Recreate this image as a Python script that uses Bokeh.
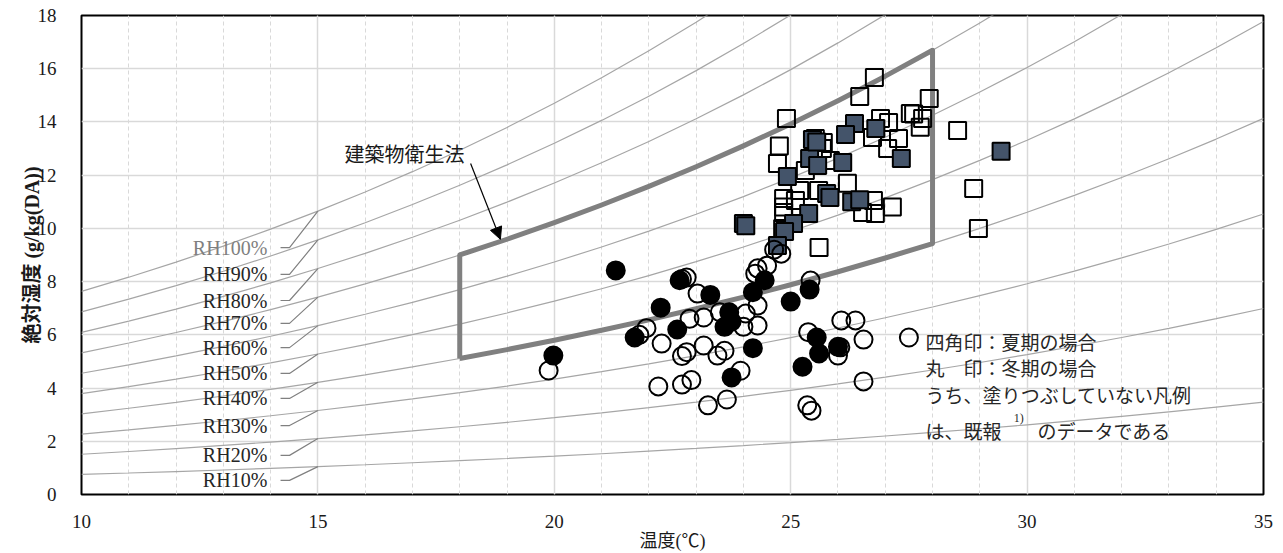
from bokeh.plotting import figure
from bokeh.models import Range1d, SingleIntervalTicker, Arrow, NormalHead
from bokeh.core.properties import value
from bokeh.embed import file_html
from bokeh.resources import INLINE

# ---------------- data ----------------
# saturation vapour pressure (kPa) at integer temperatures (degC)
temps = list(range(10, 36))
p_sat = [1.2282, 1.3130, 1.4028, 1.4981, 1.5990, 1.7058, 1.8188, 1.9384,
         2.0647, 2.1983, 2.3393, 2.4882, 2.6453, 2.8111, 2.9858, 3.1699,
         3.3639, 3.5681, 3.7831, 4.0092, 4.2470, 4.4969, 4.7596, 5.0354,
         5.3251, 5.6290]
P_ATM = 101.325
rh_levels = [10, 20, 30, 40, 50, 60, 70, 80, 90, 100]
rh_labels = ["RH10%", "RH20%", "RH30%", "RH40%", "RH50%",
             "RH60%", "RH70%", "RH80%", "RH90%", "RH100%"]
rh_label_y = [0.53, 1.47, 2.59, 3.61, 4.55, 5.52, 6.43, 7.29, 8.27, 9.28]

# regulation zone (建築物衛生法): 18-28 degC, RH 40-70 %
zone_t = [18, 28]
zone_rh = [40, 70]

# summer, previous report (open squares)
open_sq_t = [26.77, 26.46, 24.91, 27.93, 26.90, 27.07, 27.53, 27.79, 27.74, 24.76,
             25.52, 25.69, 25.67, 26.73, 27.28, 27.05, 24.72, 25.31, 25.84, 26.20,
             25.59, 25.19, 24.85, 24.85, 24.85, 26.75, 27.15, 26.79, 26.52, 25.60,
             24.83, 28.53, 28.87, 28.97, 27.60, 25.10]
open_sq_h = [15.67, 14.96, 14.13, 14.88, 14.13, 13.98, 14.32, 14.13, 13.80, 13.10,
             13.38, 13.23, 13.00, 13.42, 13.38, 13.00, 12.44, 12.18, 12.55, 11.70,
             11.42, 11.42, 11.12, 10.80, 10.60, 11.05, 10.80, 10.56, 10.60, 9.28,
             10.00, 13.68, 11.50, 10.00, 14.30, 11.05]
# summer, this study (filled squares)
fill_sq_t = [25.46, 26.35, 26.16, 26.80, 25.40, 25.57, 26.10, 24.93, 27.34, 25.76,
             25.83, 26.29, 26.46, 25.38, 25.06, 24.87, 24.72, 24.00, 29.45, 24.05, 25.55]
fill_sq_h = [13.34, 13.94, 13.53, 13.75, 12.63, 12.36, 12.48, 11.95, 12.63, 11.31,
             11.16, 11.00, 11.08, 10.56, 10.18, 9.88, 9.36, 10.18, 12.90, 10.10, 13.25]
# winter, previous report (open circles)
open_c_t = [19.88, 21.80, 21.95, 22.27, 22.20, 22.70, 22.90, 22.70, 22.80, 22.80,
            22.70, 22.86, 23.16, 23.03, 23.16, 23.45, 23.60, 23.25, 23.65, 23.94,
            23.50, 24.05, 24.00, 24.30, 24.30, 24.30, 24.25, 24.50, 24.80, 24.65,
            25.42, 25.37, 26.07, 26.37, 26.54, 26.05, 26.00, 27.50, 26.54, 25.35, 25.44]
open_c_h = [4.66, 6.00, 6.25, 5.67, 4.06, 4.13, 4.30, 5.20, 5.35, 8.15,
            8.10, 6.60, 6.65, 7.55, 5.60, 5.22, 5.40, 3.35, 3.57, 4.65,
            6.85, 6.80, 6.30, 6.35, 7.10, 8.50, 8.30, 8.60, 9.05, 9.20,
            8.04, 6.10, 6.54, 6.54, 5.82, 5.53, 5.22, 5.90, 4.25, 3.35, 3.15]
# winter, this study (filled circles)
fill_c_t = [19.98, 21.30, 21.70, 22.25, 22.60, 22.65, 23.30, 23.60, 23.70, 23.75,
            23.75, 24.20, 24.20, 24.45, 25.00, 25.40, 25.55, 25.60, 26.00, 25.25]
fill_c_h = [5.22, 8.42, 5.90, 7.02, 6.20, 8.05, 7.50, 6.30, 6.85, 6.50,
            4.40, 7.60, 5.50, 8.05, 7.25, 7.70, 5.90, 5.30, 5.55, 4.80]

# annotation texts / positions
x_title = "温度(℃)"
y_title = "絶対湿度 (g/kg(DA))"
zone_label = "建築物衛生法"
zone_label_pos = [16.83, 12.81]
arrow_pos = [18.23, 12.44, 18.86, 9.59]
note_lines = ["四角印：夏期の場合", "丸　印：冬期の場合", "うち、塗りつぶしていない凡例"]
note_x = 27.85
note_y = [5.74, 4.76, 3.74]
note_last = ["は、既報", "1)", "のデータである"]
note_last_x = [27.85, 29.72, 30.22]
note_last_y = [2.39, 2.88, 2.39]

SERIF = "Liberation Serif, Noto Sans CJK JP"
GOTHIC = "Noto Sans CJK JP, Noto Sans"


def hum_ratio(rh, ps):
    pw = rh / 100.0 * ps
    return 622.0 * pw / (P_ATM - pw)


# ---------------- figure ----------------
p = figure(width=1283, height=553, output_backend="svg", toolbar_location=None,
           x_range=Range1d(10, 35), y_range=Range1d(0, 18),
           min_border_left=81, min_border_right=20, min_border_top=15,
           min_border_bottom=59)
p.background_fill_color = "white"
p.border_fill_color = "white"
p.outline_line_color = "black"
p.outline_line_width = 2

p.xaxis.ticker = SingleIntervalTicker(interval=5, num_minor_ticks=5)
p.yaxis.ticker = SingleIntervalTicker(interval=2, num_minor_ticks=0)
for ax in (p.xaxis, p.yaxis):
    ax.axis_line_color = None
    ax.major_tick_line_color = None
    ax.minor_tick_line_color = None
    ax.major_label_text_font = SERIF
    ax.major_label_text_font_size = "19px"
    ax.major_label_text_color = "#1a1a1a"
p.xaxis.major_label_standoff = 14
p.yaxis.major_label_standoff = 19

p.xaxis.axis_label = x_title
p.xaxis.axis_label_text_font = SERIF
p.xaxis.axis_label_text_font_style = "normal"
p.xaxis.axis_label_text_font_size = "18px"
p.xaxis.axis_label_standoff = 0
p.xaxis.axis_label_text_color = "#1a1a1a"

p.yaxis.axis_label = y_title
p.yaxis.axis_label_text_font = SERIF
p.yaxis.axis_label_text_font_style = "bold"
p.yaxis.axis_label_text_font_size = "20px"
p.yaxis.axis_label_standoff = -8
p.yaxis.axis_label_text_color = "#1a1a1a"

p.xgrid.grid_line_color = "#d9d9d9"
p.xgrid.grid_line_width = 1.5
p.xgrid.minor_grid_line_color = "#d9d9d9"
p.xgrid.minor_grid_line_dash = "4 3"
p.xgrid.minor_grid_line_width = 1
p.ygrid.grid_line_color = "#d9d9d9"
p.ygrid.grid_line_width = 1.5

# RH curves
for rh in rh_levels:
    ys = [hum_ratio(rh, ps) for ps in p_sat]
    p.line(temps, ys, line_color="#a6a6a6", line_width=1.2)

# RH labels with leader lines
i15 = temps.index(15)
for rh, lab, ly in zip(rh_levels, rh_labels, rh_label_y):
    y15 = hum_ratio(rh, p_sat[i15])
    p.line([14.21, 14.40, 15.0], [ly, ly, y15], line_color="#808080", line_width=1.2)
    p.text(x=[13.93], y=[ly], text=[lab], text_align="right", text_baseline="middle",
           text_font=value(SERIF), text_font_size="20px",
           text_color="#7f7f7f" if rh == 100 else "#262626")

# regulation zone polygon
i0, i1 = temps.index(zone_t[0]), temps.index(zone_t[1])
low_t = temps[i0:i1 + 1]
low_h = [hum_ratio(zone_rh[0], ps) for ps in p_sat[i0:i1 + 1]]
up_h = [hum_ratio(zone_rh[1], ps) for ps in p_sat[i0:i1 + 1]]
poly_t = low_t + low_t[::-1] + [low_t[0]]
poly_h = low_h + up_h[::-1] + [low_h[0]]
p.line(poly_t, poly_h, line_color="#808080", line_width=5, line_join="round")

# data points
p.scatter(open_sq_t, open_sq_h, marker="square", size=17, fill_color=None,
          line_color="black", line_width=2)
p.scatter(fill_sq_t, fill_sq_h, marker="square", size=17, fill_color="#44546a",
          line_color="black", line_width=2)
p.scatter(open_c_t, open_c_h, marker="circle", size=18, fill_color=None,
          line_color="black", line_width=2)
p.scatter(fill_c_t, fill_c_h, marker="circle", size=18, fill_color="black",
          line_color="black", line_width=2)

# zone label and arrow
p.text(x=[zone_label_pos[0]], y=[zone_label_pos[1]], text=[zone_label],
       text_align="center", text_baseline="middle", text_font=value(GOTHIC),
       text_font_size="20px", text_color="#1a1a1a")
p.add_layout(Arrow(end=NormalHead(size=12, fill_color="black", line_color="black"),
                   x_start=arrow_pos[0], y_start=arrow_pos[1],
                   x_end=arrow_pos[2], y_end=arrow_pos[3],
                   line_color="black", line_width=1.2))

# note text
p.text(x=[note_x] * len(note_lines), y=note_y, text=note_lines, text_align="left",
       text_baseline="middle", text_font=value(GOTHIC), text_font_size="19px",
       text_color="#262626")
p.text(x=[note_last_x[0], note_last_x[2]], y=[note_last_y[0], note_last_y[2]],
       text=[note_last[0], note_last[2]], text_align="left", text_baseline="middle",
       text_font=value(GOTHIC), text_font_size="19px", text_color="#262626")
p.text(x=[note_last_x[1]], y=[note_last_y[1]], text=[note_last[1]], text_align="left",
       text_baseline="middle", text_font=value("Liberation Serif, serif"),
       text_font_size="12px", text_color="#262626")

open("out.html", "w").write(file_html(p, INLINE))
